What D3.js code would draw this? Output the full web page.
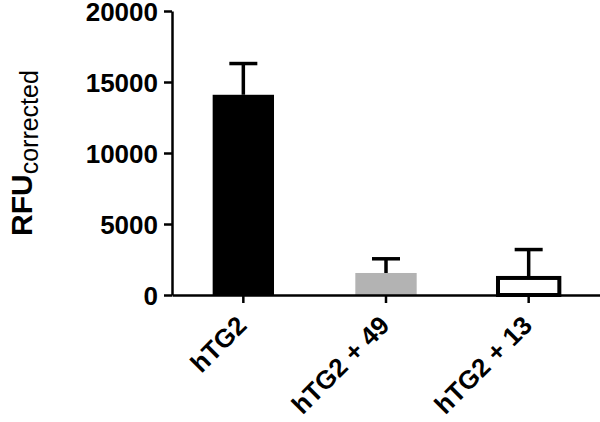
<!DOCTYPE html>
<html>
<head>
<meta charset="utf-8">
<script src="https://cdn.jsdelivr.net/npm/d3@7"></script>
<style>
  body { margin: 0; background: #fff; }
  svg { display: block; }
  .tick text { font-family: "Liberation Sans", Arial, sans-serif; font-weight: bold; }
</style>
</head>
<body>
<div id="chart"></div>
<script>
// data
var groups = ["hTG2", "hTG2 + 49", "hTG2 + 13"];
var means = [14100, 1550, 1200];
var errors = [2200, 1000, 2000];   // upper SD only
var fills = ["#000000", "#b3b3b3", "#ffffff"];
var yTicks = [0, 5000, 10000, 15000, 20000];

var width = 600, height = 422;
var margin = { top: 11, right: 0, bottom: 127, left: 172 };

var svg = d3.select("#chart").append("svg")
    .attr("width", width)
    .attr("height", height);

var x = d3.scaleBand()
    .domain(groups)
    .range([margin.left, width - margin.right])
    .paddingInner(0.57)
    .paddingOuter(0.285);

var y = d3.scaleLinear()
    .domain([0, 20000])
    .range([height - margin.bottom, margin.top]);

// y axis
var yAxis = svg.append("g")
    .attr("transform", "translate(" + margin.left + ",0)")
    .call(d3.axisLeft(y).tickValues(yTicks).tickFormat(d3.format("d"))
        .tickSize(8).tickSizeOuter(0).tickPadding(6));
yAxis.select(".domain").attr("stroke-width", 2.5);
yAxis.selectAll(".tick line").attr("stroke-width", 2.5);
yAxis.selectAll(".tick text")
    .attr("font-size", 26)
    .attr("fill", "#000")
    .attr("dy", "0.36em");

// bars
var bars = svg.append("g");
bars.selectAll("rect")
    .data(groups)
    .join("rect")
    .attr("x", function(d) { return x(d); })
    .attr("width", x.bandwidth())
    .attr("y", function(d, i) { return y(means[i]); })
    .attr("height", function(d, i) { return y(0) - y(means[i]); })
    .attr("fill", function(d, i) { return fills[i]; })
    .attr("stroke", function(d, i) { return i === 2 ? "#000" : "none"; })
    .attr("stroke-width", 4);

// error bars (upper only)
var errs = svg.append("g").attr("stroke", "#000").attr("stroke-width", 3.5);
errs.selectAll("line.stem")
    .data(groups)
    .join("line")
    .attr("class", "stem")
    .attr("x1", function(d) { return x(d) + x.bandwidth() / 2; })
    .attr("x2", function(d) { return x(d) + x.bandwidth() / 2; })
    .attr("y1", function(d, i) { return y(means[i]); })
    .attr("y2", function(d, i) { return y(means[i] + errors[i]); });
errs.selectAll("line.cap")
    .data(groups)
    .join("line")
    .attr("class", "cap")
    .attr("x1", function(d) { return x(d) + x.bandwidth() / 2 - 14; })
    .attr("x2", function(d) { return x(d) + x.bandwidth() / 2 + 14; })
    .attr("y1", function(d, i) { return y(means[i] + errors[i]); })
    .attr("y2", function(d, i) { return y(means[i] + errors[i]); });

// x axis
var xAxis = svg.append("g")
    .attr("transform", "translate(0," + y(0) + ")")
    .call(d3.axisBottom(x).tickSize(8).tickSizeOuter(0).tickPadding(0));
xAxis.select(".domain").attr("stroke-width", 2.5);
xAxis.selectAll(".tick line").attr("stroke-width", 2.5);
xAxis.selectAll(".tick text")
    .attr("font-size", 26)
    .attr("fill", "#000")
    .attr("text-anchor", "end")
    .attr("dy", null)
    .attr("y", 0)
    .attr("transform", "translate(5,32) rotate(-45)");

// y label
var ylab = svg.append("text")
    .attr("transform", "translate(32,236) rotate(-90)")
    .attr("font-family", "Liberation Sans, Arial, sans-serif")
    .attr("fill", "#000");
ylab.append("tspan").attr("font-size", 30).attr("font-weight", "bold").text("RFU");
ylab.append("tspan").attr("font-size", 25).attr("dy", 6).text("corrected");
</script>
</body>
</html>
